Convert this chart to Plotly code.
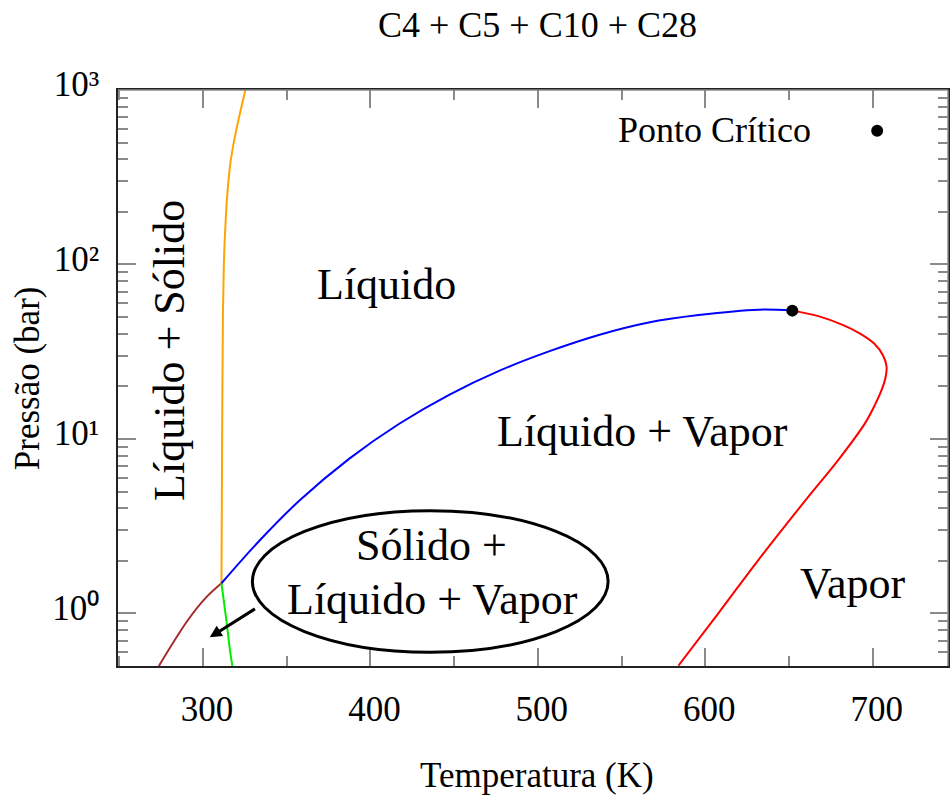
import math
import plotly.graph_objects as go

# Phase envelope of the C4 + C5 + C10 + C28 mixture: temperature (K) vs pressure (bar)
# Solid-vapour branch below the quadruple point
sv_T = [273.6, 291.1, 302.0, 311.0]
sv_P = [0.50, 0.92, 1.24, 1.49]

# Solid-liquid-vapour boundary below the quadruple point
slv_T = [311.0, 313.9, 316.3, 317.5]
slv_P = [1.49, 0.92, 0.594, 0.50]

# Solid-liquid (wax appearance) boundary
sl_T = [311.0, 311.4, 311.9, 312.5, 313.3, 314.5, 316.5, 318.9, 321.9, 325.3]
sl_P = [1.49, 10.0, 54.0, 105.0, 163.0, 253.0, 391.0, 532.0, 724.0, 1000.0]

# Bubble-point curve
bub_T = [311.0, 333.8, 357.6, 387.4, 417.2, 447.0, 476.8, 506.6, 536.4, 566.2, 596.0, 631.7, 652.0]
bub_P = [1.49, 2.62, 4.44, 7.72, 12.23, 17.91, 24.56, 31.75, 39.45, 46.5, 51.3, 55.1, 54.4]

# Dew-point curve
dew_T = [652.0, 667.5, 682.4, 692.5, 700.9, 706.2, 708.3, 707.7, 705.7, 701.2, 695.3,
         679.4, 661.5, 631.8, 607.9, 584.0]
dew_P = [54.4, 50.6, 44.95, 40.18, 35.23, 30.09, 26.02, 22.52, 19.49, 15.58, 12.25,
         7.57, 4.66, 2.03, 1.005, 0.503]

# Critical point
crit_T = [652.0]
crit_P = [54.4]

x_ticks = [300, 400, 500, 600, 700]
y_ticks = [1, 10, 100, 1000]
y_ticktext = ["10⁰", "10¹", "10²", "10³"]

x_range = [249.2, 745.0]
y_range = [math.log10(0.5), 3.0]

W, H = 951, 795
ML, MR, MT, MB = 118, 1, 90, 129
PW, PH = W - ML - MR, H - MT - MB

FONT = "Liberation Serif"
TICK_GRAY = "#8a8a8a"


def px(xp):
    return (xp - ML) / PW


def py(yp):
    return (H - MB - yp) / PH


fig = go.Figure()

curves = [
    (sv_T, sv_P, "#a52a2a"),
    (slv_T, slv_P, "#00ee00"),
    (sl_T, sl_P, "#ffa500"),
    (bub_T, bub_P, "#0000ff"),
    (dew_T, dew_P, "#ff0000"),
]
for T, P, col in curves:
    fig.add_trace(go.Scatter(
        x=T, y=P, mode="lines",
        line=dict(color=col, width=2, shape="spline", smoothing=1.0),
        showlegend=False, hoverinfo="skip",
    ))

fig.add_trace(go.Scatter(
    x=crit_T, y=crit_P, mode="markers",
    marker=dict(color="black", size=12),
    showlegend=False, name="Ponto Crítico",
))

axis_common = dict(
    showgrid=False, zeroline=False,
    showline=True, linecolor="#222222", linewidth=1.5,
    mirror="ticks", ticks="inside", ticklen=18, tickwidth=1.5,
    tickcolor=TICK_GRAY,
    tickfont=dict(family=FONT, size=35, color="black"),
)

fig.update_xaxes(
    range=x_range, tickmode="array", tickvals=x_ticks,
    minor=dict(ticks="inside", ticklen=10, tickwidth=1.5, tickcolor=TICK_GRAY,
               tickmode="linear", tick0=0, dtick=50),
    ticklabelstandoff=11, ticklabelshift=4,
    **axis_common,
)
fig.update_yaxes(
    type="log", range=y_range, tickmode="array", tickvals=y_ticks,
    ticktext=y_ticktext,
    minor=dict(ticks="inside", ticklen=10, tickwidth=1.5, tickcolor=TICK_GRAY,
               dtick="D1"),
    ticklabelstandoff=10, ticklabelshift=-6,
    **axis_common,
)

shapes = [
    # grey top and right frame lines
    dict(type="line", xref="paper", yref="paper", x0=0, x1=1, y0=1, y1=1,
         line=dict(color=TICK_GRAY, width=1.5), layer="above"),
    dict(type="line", xref="paper", yref="paper", x0=1, x1=1, y0=0, y1=1,
         line=dict(color=TICK_GRAY, width=1.5), layer="above"),
    # ellipse around the three-phase label
    dict(type="circle", xref="paper", yref="paper",
         x0=px(252.7), x1=px(609.3), y0=py(652.3), y1=py(510.7),
         line=dict(color="black", width=3)),
    # key symbol for the critical point
    dict(type="circle", xref="paper", yref="paper",
         x0=px(873), x1=px(885), y0=py(136.7), y1=py(124.7),
         fillcolor="black", line=dict(color="black", width=0)),
]


def label(text, xp, yp, size=44, angle=0, xanchor="center"):
    return dict(text=text, xref="paper", yref="paper", x=px(xp), y=py(yp),
                xanchor=xanchor, yanchor="middle", showarrow=False,
                textangle=angle,
                font=dict(family=FONT, size=size, color="black"))


annotations = [
    label("C4 + C5 + C10 + C28", 538.5, 25, size=36),
    label("Temperatura (K)", 538.5, 775, size=35),
    label("Pressão (bar)", 27, 378, size=35, angle=-90),
    label("Ponto Crítico", 815, 129.7, size=36, xanchor="right"),
    label("Líquido", 387.5, 284),
    label("Líquido + Vapor", 643.3, 431),
    label("Vapor", 854, 583),
    label("Líquido + Sólido", 169, 350, angle=-90),
    label("Sólido +", 432.5, 545.8),
    label("Líquido + Vapor", 433.3, 599.5),
    dict(x=304.0, y=math.log10(0.73), xref="x", yref="y",
         ax=46.7, ay=-29.4, showarrow=True, arrowhead=2, arrowsize=0.8,
         arrowwidth=3, arrowcolor="black", text=""),
]

fig.update_layout(
    width=W, height=H, autosize=False,
    margin=dict(l=ML, r=MR, t=MT, b=MB),
    paper_bgcolor="white", plot_bgcolor="white",
    shapes=shapes, annotations=annotations,
    showlegend=False,
)

fig.write_html("out.html")
